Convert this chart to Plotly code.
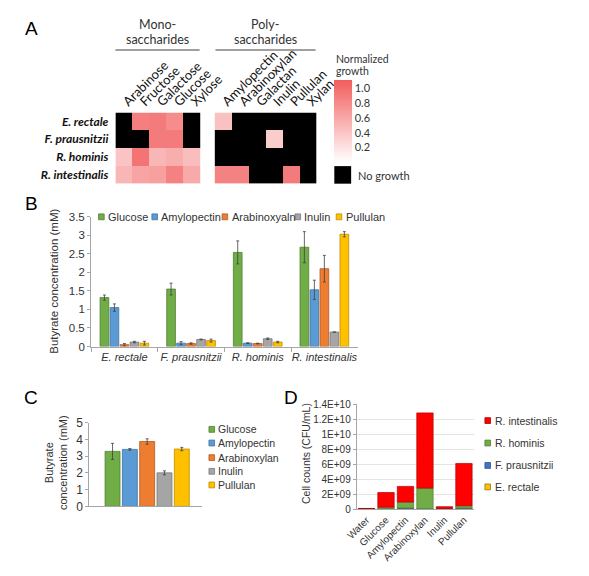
import plotly.graph_objects as go
import numpy as np

# page is 589x576; browser body has an 8px margin, so the figure is 573x560
PAGE_OFF = 8
W, H = 573, 560

# ---------------- data ----------------
strains = ["E. rectale", "F. prausnitzii", "R. hominis", "R. intestinalis"]
mono_sugars = ["Arabinose", "Fructose", "Galactose", "Glucose", "Xylose"]
poly_sugars = ["Amylopectin", "Arabinoxylan", "Galactan", "Inulin", "Pullulan", "Xylan"]
# normalized growth (None = no growth)
mono_growth = [
    [None, 0.88, 0.90, 0.78, None],
    [None, None, 0.90, 0.90, None],
    [0.40, 0.95, 0.50, 0.55, 0.45],
    [0.50, 0.62, 0.65, 0.85, 0.58],
]
poly_growth = [
    [0.42, None, None, None, None, None],
    [None, None, None, 0.35, None, None],
    [None, None, None, None, None, None],
    [0.85, 0.85, None, None, 0.90, None],
]
cbar_ticks = [0.2, 0.4, 0.6, 0.8, 1.0]
cbar_ticktext = ["0.2", "0.4", "0.6", "0.8", "1.0"]

# Panel B: butyrate by strain and substrate
b_series = ["Glucose", "Amylopectin", "Arabinoxyaln", "Inulin", "Pullulan"]
b_values = {
    "Glucose":      [1.32, 1.55, 2.54, 2.68],
    "Amylopectin":  [1.05, 0.09, 0.09, 1.53],
    "Arabinoxyaln": [0.05, 0.08, 0.08, 2.10],
    "Inulin":       [0.12, 0.19, 0.21, 0.39],
    "Pullulan":     [0.09, 0.16, 0.12, 3.03],
}
b_errors = {
    "Glucose":      [0.07, 0.16, 0.31, 0.42],
    "Amylopectin":  [0.10, 0.04, 0.01, 0.26],
    "Arabinoxyaln": [0.03, 0.02, 0.01, 0.36],
    "Inulin":       [0.02, 0.01, 0.02, 0.00],
    "Pullulan":     [0.05, 0.04, 0.02, 0.07],
}

# Panel C: consortium butyrate
c_series = ["Glucose", "Amylopectin", "Arabinoxylan", "Inulin", "Pullulan"]
c_values = [3.28, 3.40, 3.87, 2.00, 3.42]
c_errors = [0.48, 0.05, 0.16, 0.12, 0.10]

# Panel D: cell counts (CFU/mL), stacked
d_substrates = ["Water", "Glucose", "Amylopectin", "Arabinoxylan", "Inulin", "Pullulan"]
d_species = ["E. rectale", "F. prausnitzii", "R. hominis", "R. intestinalis"]  # bottom -> top
d_counts = {
    "E. rectale":      [0.02e9, 0.05e9, 0.15e9, 0.05e9, 0.03e9, 0.15e9],
    "F. prausnitzii":  [0.02e9, 0.02e9, 0.02e9, 0.02e9, 0.02e9, 0.02e9],
    "R. hominis":      [0.03e9, 0.22e9, 0.80e9, 2.75e9, 0.04e9, 0.30e9],
    "R. intestinalis": [0.05e9, 1.95e9, 2.08e9, 10.0e9, 0.26e9, 5.63e9],
}
d_tickvals = [0, 2e9, 4e9, 6e9, 8e9, 1e10, 1.2e10, 1.4e10]
d_ticktext = ["0", "2E+09", "4E+09", "6E+09", "8E+09", "1E+10", "1.2E+10", "1.4E+10"]

# ---------------- styles ----------------
fill = {"Glucose": "#70AD47", "Amylopectin": "#5B9BD5", "Arabinoxyaln": "#ED7D31",
        "Arabinoxylan": "#ED7D31", "Inulin": "#A5A5A5", "Pullulan": "#FFC000"}
edge = {"Glucose": "#507E32", "Amylopectin": "#41719C", "Arabinoxyaln": "#AE5A21",
        "Arabinoxylan": "#AE5A21", "Inulin": "#787878", "Pullulan": "#BC8C00"}
d_fill = {"R. intestinalis": "#FF0000", "R. hominis": "#70AD47",
          "F. prausnitzii": "#4472C4", "E. rectale": "#FFC000"}
d_edge = {"R. intestinalis": "#B00000", "R. hominis": "#507E32",
          "F. prausnitzii": "#2F528F", "E. rectale": "#8C7A20"}

ARIAL = "Arial, Liberation Sans, sans-serif"
LATO = "Lato, Open Sans, sans-serif"
TXT = "#333333"
AX = "#A6A6A6"


def px(x):
    return (x - PAGE_OFF) / W


def py(y):
    return 1 - (y - PAGE_OFF) / H


fig = go.Figure()

# ---------------- Panel A: heatmaps ----------------
def black_mask(grid):
    return [[1 if v is None else None for v in row] for row in grid]


cscale = [[0, "#FFFFFF"], [1, "#F25C5C"]]
for grid, cols, xa, ya in [(mono_growth, mono_sugars, "x", "y"), (poly_growth, poly_sugars, "x2", "y2")]:
    fig.add_trace(go.Heatmap(z=black_mask(grid), x=cols, y=strains, xaxis=xa, yaxis=ya,
                             colorscale=[[0, "#000000"], [1, "#000000"]], showscale=False,
                             hoverinfo="skip"))
for grid, cols, xa, ya, show in [(mono_growth, mono_sugars, "x", "y", True),
                                 (poly_growth, poly_sugars, "x2", "y2", False)]:
    fig.add_trace(go.Heatmap(
        z=grid, x=cols, y=strains, xaxis=xa, yaxis=ya,
        colorscale=cscale, zmin=0, zmax=1.11, showscale=show,
        colorbar=dict(x=px(344), xanchor="left", y=py(75), yanchor="top",
                      len=82, lenmode="pixels", thickness=18, thicknessmode="pixels",
                      outlinewidth=0, xpad=0, ypad=0, ticks="",
                      tickvals=cbar_ticks, ticktext=cbar_ticktext,
                      tickfont=dict(family=LATO, size=11, color=TXT)),
    ))

# ---------------- Panel B ----------------
for s in b_series:
    fig.add_trace(go.Bar(
        x=strains, y=b_values[s], name=s, xaxis="x3", yaxis="y3",
        marker=dict(color=fill[s], line=dict(color=edge[s], width=0.8)),
        error_y=dict(type="data", array=b_errors[s], color="#404040", thickness=0.8, width=1.5),
        showlegend=False,
    ))

# ---------------- Panel C ----------------
c_offsets = [-0.36 + i * 0.153 for i in range(len(c_series))]
for i, s in enumerate(c_series):
    fig.add_trace(go.Bar(
        x=[0], y=[c_values[i]], name=s, xaxis="x4", yaxis="y4",
        offset=c_offsets[i], width=0.132,
        marker=dict(color=fill[s], line=dict(color=edge[s], width=0.8)),
        error_y=dict(type="data", array=[c_errors[i]], color="#404040", thickness=0.8, width=1.5),
        showlegend=False,
    ))

# ---------------- Panel D ----------------
base = np.zeros(len(d_substrates))
for s in d_species:
    vals = np.array(d_counts[s])
    fig.add_trace(go.Bar(
        x=d_substrates, y=vals, base=base.copy(), name=s, xaxis="x5", yaxis="y5",
        offset=-0.42, width=0.84,
        marker=dict(color=d_fill[s], line=dict(color=d_edge[s], width=0.7)),
        showlegend=False,
    ))
    base = base + vals

# ---------------- layout / axes ----------------
hm_y = [py(181), py(108)]
fig.update_layout(
    width=W, height=H, margin=dict(l=0, r=0, t=0, b=0),
    paper_bgcolor="white", plot_bgcolor="white",
    barmode="group", bargap=0.25, bargroupgap=0.13,
    font=dict(family=ARIAL, color=TXT),
    xaxis=dict(domain=[px(110), px(201)], anchor="y", side="top", tickangle=-45,
               showgrid=False, zeroline=False, showline=False, ticks="",
               tickfont=dict(family=LATO, size=13, color="#111111")),
    yaxis=dict(domain=hm_y, anchor="x", autorange="reversed", showgrid=False, zeroline=False,
               tickvals=strains, ticktext=["<b><i>" + s + "</i></b>" for s in strains],
               ticks="", ticklabelstandoff=6,
               tickfont=dict(family=LATO, size=12, color="#111111")),
    xaxis2=dict(domain=[px(216), px(325)], anchor="y2", side="top", tickangle=-45,
                showgrid=False, zeroline=False, showline=False, ticks="",
                tickfont=dict(family=LATO, size=13, color="#111111")),
    yaxis2=dict(domain=hm_y, anchor="x2", autorange="reversed", showgrid=False,
                zeroline=False, showticklabels=False, ticks=""),
    xaxis3=dict(domain=[px(84), px(369)], anchor="y3", showgrid=False, zeroline=False,
                showline=True, linecolor=AX, linewidth=1, ticks="outside", tickson="boundaries",
                ticklen=4, tickcolor=AX, tickvals=strains, tickangle=0,
                ticktext=["<i>" + s + "</i>" for s in strains],
                tickfont=dict(family=ARIAL, size=11, color=TXT)),
    yaxis3=dict(domain=[py(348), py(215)], anchor="x3", range=[0, 3.5], dtick=0.5,
                showgrid=False, zeroline=False, showline=True, linecolor=AX, linewidth=1,
                ticks="outside", ticklen=3, tickcolor=AX,
                tickfont=dict(family=ARIAL, size=11.5, color=TXT)),
    xaxis4=dict(domain=[px(82), px(203)], anchor="y4", range=[-0.5, 0.5], showgrid=False,
                zeroline=False, showline=True, linecolor=AX, linewidth=1,
                showticklabels=False, ticks=""),
    yaxis4=dict(domain=[py(512), py(426)], anchor="x4", range=[0, 5], dtick=1,
                showgrid=False, zeroline=False, showline=True, linecolor=AX, linewidth=1,
                ticks="outside", ticklen=3, tickcolor=AX,
                tickfont=dict(family=ARIAL, size=12, color=TXT)),
    xaxis5=dict(domain=[px(368), px(493)], anchor="y5", range=[-0.5, 5.5], showgrid=False,
                zeroline=False, showline=True, linecolor=AX, linewidth=1, ticks="",
                tickangle=-45, tickfont=dict(family=ARIAL, size=10, color=TXT)),
    yaxis5=dict(domain=[py(515), py(407)], anchor="x5", range=[0, 1.4e10],
                tickvals=d_tickvals, ticktext=d_ticktext,
                showgrid=True, gridcolor="#E4E4E4", gridwidth=0.8, zeroline=False,
                showline=True, linecolor=AX, linewidth=1, ticks="outside", ticklen=3,
                tickcolor=AX, tickfont=dict(family=ARIAL, size=10, color=TXT)),
)

ann = []
shapes = []


def text(x, y, t, size, family=ARIAL, xanchor="center", angle=0, color=TXT):
    ann.append(dict(x=px(x), y=py(y), xref="paper", yref="paper", text=t, showarrow=False,
                    xanchor=xanchor, yanchor="middle", textangle=angle,
                    font=dict(family=family, size=size, color=color)))


def rect(x0, y0, x1, y1, fc, lc=None, lw=0):
    shapes.append(dict(type="rect", xref="paper", yref="paper", x0=px(x0), x1=px(x1),
                       y0=py(y1), y1=py(y0), fillcolor=fc,
                       line=dict(color=lc or fc, width=lw)))


# panel letters
for lab, x, y in [("A", 20, 22), ("B", 20, 201), ("C", 20, 400), ("D", 298, 400)]:
    text(x, y, lab, 19, color="#000000")

# group headers
text(155, 18, "Mono-", 12.5, LATO)
text(155, 33, "saccharides", 12.5, LATO)
text(270, 18, "Poly-", 12.5, LATO)
text(270, 33, "saccharides", 12.5, LATO)
for x0, x1 in [(110, 200), (217, 324)]:
    shapes.append(dict(type="line", xref="paper", yref="paper", x0=px(x0), x1=px(x1),
                       y0=py(44), y1=py(44), line=dict(color="#808080", width=1.5)))

# colorbar caption + no growth key
text(344, 53, "Normalized", 10.5, LATO, xanchor="left")
text(344, 65, "growth", 10.5, LATO, xanchor="left")
rect(344, 163, 362, 181, "#000000")
text(367, 173, "No growth", 11, LATO, xanchor="left")

# axis titles
text(45, 281, "Butyrate concentration (mM)", 11.5, angle=-90)
text(46, 467, "Butyrate<br>concentration (mM)", 11, angle=-90)
text(314, 458, "Cell counts (CFU/mL)", 10.5, angle=-90)

# legend B (horizontal)
b_leg_x = [92, 149, 224, 302, 346]
for s, x in zip(b_series, b_leg_x):
    rect(x, 212, x + 6, 218, fill[s], edge[s], 0.8)
    text(x + 8, 215, s, 11, xanchor="left")

# legend C (vertical)
c_leg_y = [433, 447, 462, 476, 490]
for s, y in zip(c_series, c_leg_y):
    rect(210, y - 3, 216, y + 3, fill[s], edge[s], 0.8)
    text(218, y, s, 10.5, xanchor="left")

# legend D (vertical, reversed)
d_leg_y = [424, 447, 470, 492]
for s, y in zip(d_species[::-1], d_leg_y):
    rect(505, y - 3, 511, y + 3, d_fill[s], d_edge[s], 0.8)
    text(514, y, s, 10.5, xanchor="left")

fig.update_layout(annotations=ann, shapes=shapes)
fig.write_html("out.html")
